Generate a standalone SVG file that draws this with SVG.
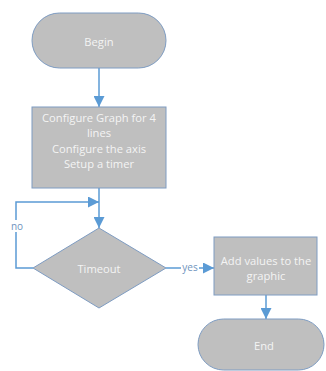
<svg xmlns="http://www.w3.org/2000/svg" width="326" height="371" viewBox="0 0 326 371">
  <style>
    .shape { fill: #bfbfbf; stroke: #7e9cc2; stroke-width: 1; }
    .label { font-family: "Open Sans", "Liberation Sans", sans-serif; font-size: 11.2px; fill: #f4f4f4; text-anchor: middle; dominant-baseline: central; }
    .conn { fill: none; stroke: #5b9bd5; stroke-width: 1.5; }
    .edge-label { font-family: "Open Sans", "Liberation Sans", sans-serif; font-size: 10px; fill: #6f94bd; text-anchor: middle; dominant-baseline: central; }
  </style>
  <defs>
    <marker id="arrow" viewBox="0 0 10 10" refX="10" refY="5" markerWidth="11" markerHeight="11" markerUnits="userSpaceOnUse" orient="auto">
      <path d="M0,0 L10,5 L0,10 Z" fill="#5b9bd5"/>
    </marker>
  </defs>
  <rect width="326" height="371" fill="#ffffff"/>

  <g id="connectors">
    <line class="conn" x1="99" y1="68" x2="99" y2="107" marker-end="url(#arrow)"/>
    <line class="conn" x1="99" y1="188" x2="99" y2="228" marker-end="url(#arrow)"/>
    <polyline class="conn" points="33,268 16,268 16,202 99,202" marker-end="url(#arrow)"/>
    <rect x="10" y="220" width="14" height="12" fill="#ffffff"/>
    <text class="edge-label" x="17" y="226">no</text>
    <line class="conn" x1="166" y1="268" x2="214" y2="268" marker-end="url(#arrow)"/>
    <rect x="181" y="262" width="18" height="12" fill="#ffffff"/>
    <text class="edge-label" x="190" y="267">yes</text>
    <line class="conn" x1="266" y1="295" x2="266" y2="319" marker-end="url(#arrow)"/>
  </g>

  <g id="begin">
    <rect class="shape" x="32" y="13" width="134" height="55" rx="27.5" ry="27.5"/>
    <text class="label" x="99" y="41">Begin</text>
  </g>

  <g id="configure">
    <rect class="shape" x="32" y="107" width="134" height="81"/>
    <text class="label" x="99" y="117">Configure Graph for 4</text>
    <text class="label" x="99" y="132">lines</text>
    <text class="label" x="99" y="148">Configure the axis</text>
    <text class="label" x="99" y="163">Setup a timer</text>
  </g>

  <g id="timeout">
    <polygon class="shape" points="99,228 166,268 99,308 33,268"/>
    <text class="label" x="99" y="268">Timeout</text>
  </g>

  <g id="add-values">
    <rect class="shape" x="214" y="237" width="103" height="58"/>
    <text class="label" x="266" y="260">Add values to the</text>
    <text class="label" x="266" y="275">graphic</text>
  </g>

  <g id="end">
    <rect class="shape" x="198" y="319" width="126" height="51" rx="25.5" ry="25.5"/>
    <text class="label" x="264" y="345">End</text>
  </g>
</svg>
